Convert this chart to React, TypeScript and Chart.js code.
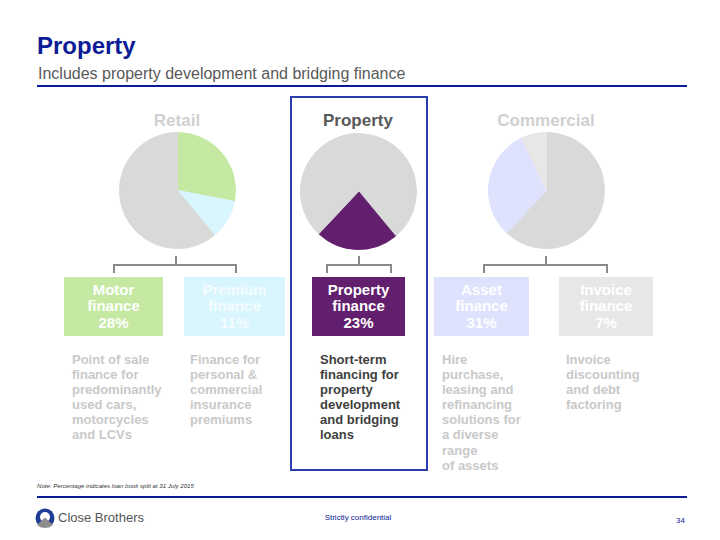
import React, { useEffect, useRef } from 'react';
import { Chart, registerables } from 'chart.js';

Chart.register(...registerables);

// ---- data ----
const segments = ['Motor finance', 'Premium finance', 'Property finance', 'Asset finance', 'Invoice finance'];
const segmentLines = [
  ['Motor', 'finance', '28%'],
  ['Premium', 'finance', '11%'],
  ['Property', 'finance', '23%'],
  ['Asset', 'finance', '31%'],
  ['Invoice', 'finance', '7%'],
];
const loanBookShare = [28, 11, 23, 31, 7];
const divisions = ['Retail', 'Property', 'Commercial'];
const descriptions = [
  ['Point of sale', 'finance for', 'predominantly', 'used cars,', 'motorcycles', 'and LCVs'],
  ['Finance for', 'personal &', 'commercial', 'insurance', 'premiums'],
  ['Short-term', 'financing for', 'property', 'development', 'and bridging', 'loans'],
  ['Hire', 'purchase,', 'leasing and', 'refinancing', 'solutions for', 'a diverse', 'range', 'of assets'],
  ['Invoice', 'discounting', 'and debt', 'factoring'],
];

// ---- styles ----
const GRAY = '#d9d9d9';
const segColors = ['#c5e9a3', '#d9f5fe', '#621f6d', '#dee2fd', '#e7e7e7'];
const pieColors = [
  [segColors[0], segColors[1], GRAY, GRAY, GRAY],
  [GRAY, GRAY, segColors[2], GRAY, GRAY],
  [GRAY, GRAY, GRAY, segColors[3], segColors[4]],
];
const pieCenters = [
  [177, 190],
  [358, 191],
  [546, 190],
];
const PIE_R = 58;
const headingColors = ['#d0d0d0', '#595959', '#d0d0d0'];
const boxLeft = [64, 184, 312, 434, 559];
const boxWidth = [99, 101, 93, 95, 94];
const boxTextColors = ['#ffffff', '#f4fcff', '#ffffff', '#ffffff', '#ffffff'];
const descLeft = [72, 190, 320, 442, 566];
const descColors = ['#c9c9c9', '#c9c9c9', '#404040', '#c9c9c9', '#c9c9c9'];
const connectors = [
  { stem: 176, a: 114, b: 236 },
  { stem: 359, a: 327, b: 391 },
  { stem: 546, a: 484, b: 607 },
];

const FONT = '"Liberation Sans", Arial, Helvetica, sans-serif';
const BLUE = '#0b1c96';

function Pie({ colors, cx, cy }: { colors: string[]; cx: number; cy: number }) {
  const ref = useRef<HTMLCanvasElement | null>(null);
  useEffect(() => {
    if (!ref.current) return;
    const chart = new Chart(ref.current, {
      type: 'pie',
      data: {
        labels: segments,
        datasets: [
          {
            data: loanBookShare,
            backgroundColor: colors,
            borderColor: colors,
            borderWidth: 1,
          },
        ],
      },
      options: {
        animation: false,
        responsive: false,
        maintainAspectRatio: false,
        layout: { padding: 0 },
        plugins: { legend: { display: false }, tooltip: { enabled: false } },
        events: [],
      },
    });
    return () => chart.destroy();
  }, []);
  const size = PIE_R * 2 + 1;
  return (
    <canvas
      ref={ref}
      width={size}
      height={size}
      style={{ position: 'absolute', left: cx - size / 2, top: cy - size / 2, width: size, height: size }}
    />
  );
}

const abs = (s: React.CSSProperties): React.CSSProperties => ({ position: 'absolute', ...s });

export default function App() {
  const lineColor = '#8a8a8a';
  return (
    <div style={abs({ left: 0, top: 0, width: 720, height: 540, background: '#fff', fontFamily: FONT, overflow: 'hidden' })}>
      {/* Title */}
      <div style={abs({ left: 37, top: 31, fontSize: 24, fontWeight: 'bold', color: BLUE, lineHeight: '30px' })}>Property</div>
      <div style={abs({ left: 38, top: 64, fontSize: 16, color: '#595959', lineHeight: '20px' })}>
        Includes property development and bridging finance
      </div>
      <div style={abs({ left: 37, top: 85, width: 650, height: 2, background: BLUE })} />

      {/* Highlight frame */}
      <div style={abs({ left: 290, top: 96, width: 134, height: 371, border: '2px solid #2c3eae' })} />

      {/* Headings */}
      {divisions.map((d, i) => (
        <div
          key={d}
          style={abs({
            left: pieCenters[i][0] - 80,
            width: 160,
            top: 111,
            textAlign: 'center',
            fontSize: 17,
            fontWeight: 'bold',
            color: headingColors[i],
            lineHeight: '20px',
          })}
        >
          {d}
        </div>
      ))}

      {/* Pies */}
      {pieColors.map((c, i) => (
        <Pie key={i} colors={c} cx={pieCenters[i][0]} cy={pieCenters[i][1]} />
      ))}

      {/* Connectors */}
      {connectors.map((c, i) => (
        <React.Fragment key={i}>
          <div style={abs({ left: c.stem - 1, top: 256, width: 2, height: 10, background: lineColor })} />
          <div style={abs({ left: c.a - 1, top: 264, width: c.b - c.a + 2, height: 2, background: lineColor })} />
          <div style={abs({ left: c.a - 1, top: 264, width: 2, height: 9, background: lineColor })} />
          <div style={abs({ left: c.b - 1, top: 264, width: 2, height: 9, background: lineColor })} />
        </React.Fragment>
      ))}

      {/* Boxes */}
      {segmentLines.map((lines, i) => (
        <div
          key={i}
          style={abs({
            left: boxLeft[i],
            top: 277,
            width: boxWidth[i],
            height: 59,
            background: segColors[i],
            color: boxTextColors[i],
            fontSize: 15,
            fontWeight: 'bold',
            lineHeight: '16.5px',
            textAlign: 'center',
            display: 'flex',
            flexDirection: 'column',
            justifyContent: 'center',
          })}
        >
          {lines.map((l) => (
            <div key={l}>{l}</div>
          ))}
        </div>
      ))}

      {/* Descriptions */}
      {descriptions.map((lines, i) => (
        <div
          key={i}
          style={abs({
            left: descLeft[i],
            top: 352,
            fontSize: 13,
            fontWeight: 'bold',
            lineHeight: '15.1px',
            color: descColors[i],
            whiteSpace: 'nowrap',
          })}
        >
          {lines.map((l) => (
            <div key={l}>{l}</div>
          ))}
        </div>
      ))}

      {/* Footer */}
      <div style={abs({ left: 37, top: 482, fontSize: 6.1, fontStyle: 'italic', color: '#333', lineHeight: '8px', whiteSpace: 'nowrap' })}>
        Note: Percentage indicates loan book split at 31 July 2015
      </div>
      <div style={abs({ left: 37, top: 496, width: 650, height: 2, background: BLUE })} />
      <svg style={abs({ left: 35, top: 508 })} width={20} height={20} viewBox="0 0 20 20">
        <circle cx={10} cy={10} r={9.5} fill="#1f3c96" />
        <circle cx={10} cy={9} r={5} fill="#ffffff" />
        <polygon points="2,17 10,9.5 18,17 14,19.5 6,19.5" fill="#8c8c8c" />
      </svg>
      <div style={abs({ left: 58, top: 510, fontSize: 13, color: '#555', lineHeight: '16px', whiteSpace: 'nowrap' })}>Close Brothers</div>
      <div style={abs({ left: 278, width: 160, top: 513, fontSize: 8, color: BLUE, lineHeight: '10px', textAlign: 'center' })}>
        Strictly confidential
      </div>
      <div style={abs({ left: 676, top: 516, fontSize: 8, color: BLUE, lineHeight: '10px' })}>34</div>
    </div>
  );
}
